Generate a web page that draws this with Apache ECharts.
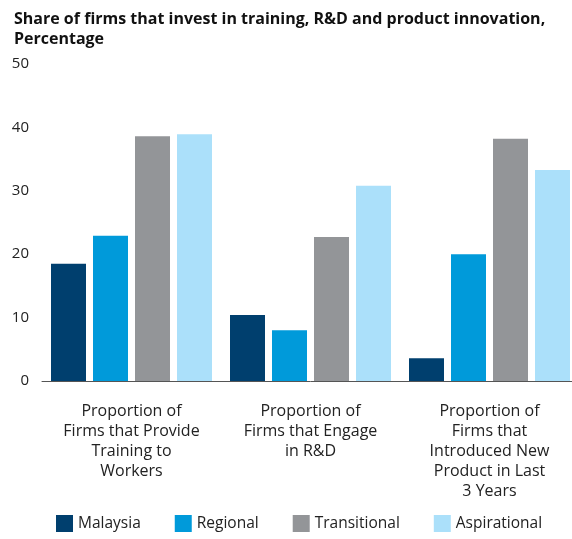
<!DOCTYPE html>
<html><head><meta charset="utf-8">
<script src="https://cdn.jsdelivr.net/npm/echarts@6/dist/echarts.min.js"></script>
<style>html,body{margin:0;padding:0;background:#fff;overflow:hidden}#c{width:580px;height:539px}</style>
</head><body><div id="c"></div>
<script>
const categories = [
  "Proportion of\nFirms that Provide\nTraining to\nWorkers",
  "Proportion of\nFirms that Engage\nin R&D",
  "Proportion of\nFirms that\nIntroduced New\nProduct in Last\n3 Years"
];
const seriesNames = ["Malaysia", "Regional", "Transitional", "Aspirational"];
const malaysia = [18.5, 10.4, 3.6];
const regional = [22.9, 8.0, 20.0];
const transitional = [38.6, 22.7, 38.2];
const aspirational = [38.9, 30.8, 33.3];
const yTicks = [0, 10, 20, 30, 40, 50];
const colors = ["#003f6e", "#009ada", "#939598", "#abe0fa"];
const values = [malaysia, regional, transitional, aspirational];

const font = "'Open Sans', Lato, sans-serif";
const chart = echarts.init(document.getElementById('c'), null, {renderer: 'canvas'});
chart.setOption({
  animation: false,
  color: colors,
  title: {
    text: "Share of firms that invest in training, R&D and product innovation,\nPercentage",
    left: 9, top: 4,
    textStyle: {fontFamily: font, fontWeight: 'bold', fontSize: 16, color: '#111', lineHeight: 20}
  },
  legend: {
    bottom: 2, left: 51,
    itemWidth: 17, itemHeight: 17, itemGap: 34,
    icon: 'rect',
    textStyle: {fontFamily: font, fontSize: 15.5, color: '#222'},
    data: seriesNames
  },
  grid: {left: 42, top: 64, width: 537, bottom: 158, containLabel: false},
  xAxis: {
    type: 'category', data: categories,
    axisLine: {lineStyle: {color: '#555', width: 1}},
    axisTick: {show: false},
    axisLabel: {fontFamily: font, fontSize: 16, color: '#222', lineHeight: 20, margin: 20, interval: 0}
  },
  yAxis: {
    type: 'value', min: yTicks[0], max: yTicks[yTicks.length - 1], interval: 10,
    splitLine: {show: false},
    axisLine: {show: false}, axisTick: {show: false},
    axisLabel: {fontFamily: font, fontSize: 15, color: '#222', margin: 13}
  },
  series: seriesNames.map((n, i) => ({
    name: n, type: 'bar', data: values[i],
    barWidth: 35, barGap: '20%', barCategoryGap: '10%'
  }))
});
</script></body></html>
